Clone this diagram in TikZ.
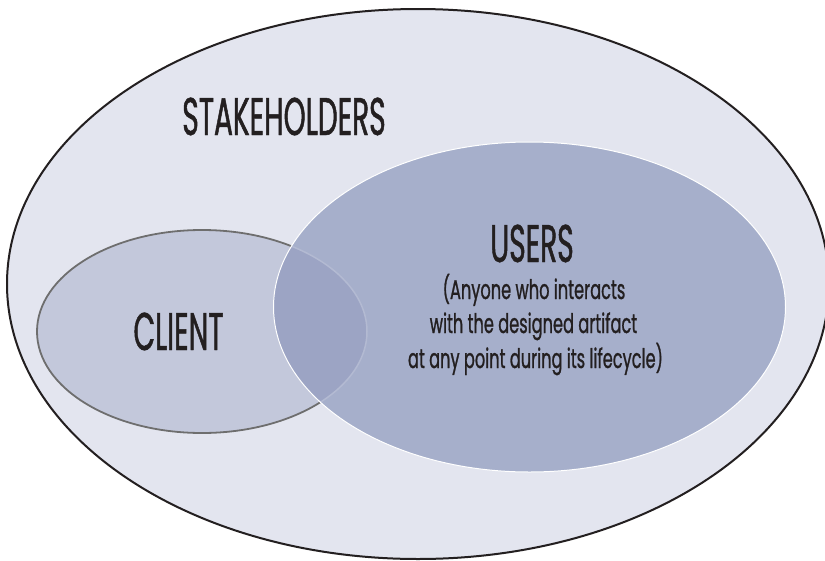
\documentclass[tikz,border=0pt]{standalone}
\usepackage{fontspec}
\newfontfamily\condbig{Poppins}[FakeStretch=0.53,FakeBold=0.9]
\newfontfamily\condsmall{Poppins}[FakeStretch=0.6,FakeBold=0.9]
\definecolor{bgfill}{HTML}{E3E5EF}
\definecolor{clientfill}{HTML}{C3C8DB}
\definecolor{usersfill}{HTML}{A6AFCB}
\definecolor{overlapfill}{HTML}{9CA4C4}
\definecolor{clientedge}{HTML}{6E6E6E}
\definecolor{inneredge}{HTML}{B3BAD2}
\definecolor{ink}{HTML}{231F20}
\begin{document}
\begin{tikzpicture}[x=1pt,y=-1pt,
  bigtext/.style={font=\condbig\fontsize{53}{58}\selectfont, text=ink, inner sep=0pt, anchor=base},
  smalltext/.style={font=\condsmall\fontsize{27}{30}\selectfont, text=ink, inner sep=0pt, anchor=base}]
\useasboundingbox (0,0) rectangle (825,560);
\clip (0,0) rectangle (825,560);
\fill[white] (0,0) rectangle (825,560);
% stakeholders
\draw[line width=2pt, draw=ink, fill=bgfill] (418,284) ellipse [x radius=411pt, y radius=275pt];
% client
\draw[line width=1.8pt, draw=clientedge, fill=clientfill] (202,331.5) ellipse [x radius=165pt, y radius=101.5pt];
% users
\fill[usersfill] (529.5,307) ellipse [x radius=256pt, y radius=165pt];
\begin{scope}
  \clip (529.5,307) ellipse [x radius=256pt, y radius=165pt];
  \draw[line width=1.5pt, draw=inneredge, fill=overlapfill] (202,331.5) ellipse [x radius=165pt, y radius=101.5pt];
\end{scope}
\draw[line width=1pt, draw=white] (529.5,307) ellipse [x radius=256pt, y radius=165pt];
% texts
\node[bigtext] (stake) at (284,135) {STAKEHOLDERS};
\node[bigtext] (users) at (532,262) {USERS};
\node[bigtext] (client) at (178.5,350) {CLIENT};
\node[smalltext] (l1) at (534,299) {(Anyone who interacts};
\node[smalltext] (l2) at (533.5,333) {with the designed artifact};
\node[smalltext] (l3) at (535.5,368) {at any point during its lifecycle)};
\end{tikzpicture}
\end{document}
